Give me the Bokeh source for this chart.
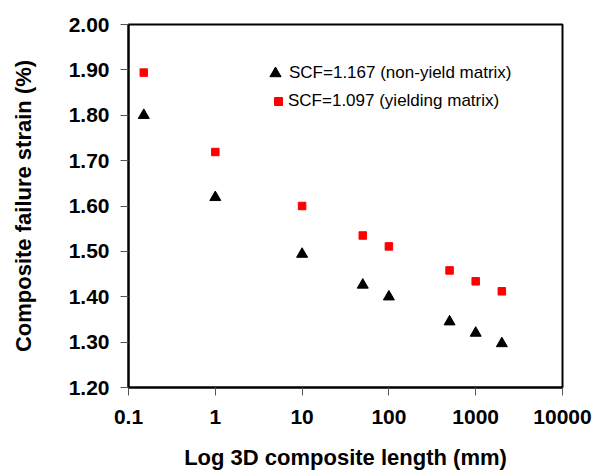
from bokeh.plotting import figure
from bokeh.models import FixedTicker, PrintfTickFormatter, CustomJSTickFormatter, Legend, LegendItem
from bokeh.embed import file_html
from bokeh.resources import INLINE

# Data
lengths = [0.15, 1, 10, 50, 100, 500, 1000, 2000]
strain_nonyield = [1.800, 1.619, 1.494, 1.426, 1.400, 1.345, 1.320, 1.297]
strain_yielding = [1.894, 1.719, 1.600, 1.535, 1.511, 1.458, 1.434, 1.412]
x_ticks = [0.1, 1, 10, 100, 1000, 10000]
y_ticks = [1.2, 1.3, 1.4, 1.5, 1.6, 1.7, 1.8, 1.9, 2.0]
label_nonyield = "SCF=1.167 (non-yield matrix)"
label_yielding = "SCF=1.097 (yielding matrix)"

FONT = "Liberation Sans"

p = figure(width=595, height=476, x_axis_type="log",
           x_range=(0.1, 10000), y_range=(1.2, 2.0),
           output_backend="svg", toolbar_location=None,
           min_border_left=128, min_border_right=33,
           min_border_top=24, min_border_bottom=89)

p.background_fill_color = "white"
p.border_fill_color = "white"
p.outline_line_color = "black"
p.outline_line_width = 2
p.xgrid.visible = False
p.ygrid.visible = False

r_tri = p.scatter(lengths, strain_nonyield, marker="triangle", size=11,
                  fill_color="black", line_color="black", line_width=1)
r_sq = p.scatter(lengths, strain_yielding, marker="square", size=7.5,
                 fill_color="#ff0000", line_color="#ff0000", line_width=1)

for ax in (p.xaxis[0], p.yaxis[0]):
    ax.axis_line_color = "black"
    ax.axis_line_width = 2
    ax.major_tick_line_color = "#555555"
    ax.major_tick_line_width = 1
    ax.major_tick_in = 0
    ax.major_tick_out = 8
    ax.minor_tick_line_color = None
    ax.major_label_text_font = FONT
    ax.major_label_text_font_style = "bold"
    ax.major_label_text_font_size = "21px"
    ax.major_label_text_color = "black"
    ax.axis_label_text_font = FONT
    ax.axis_label_text_font_style = "bold"
    ax.axis_label_text_font_size = "22px"
    ax.axis_label_text_color = "black"

p.xaxis.ticker = FixedTicker(ticks=x_ticks)
p.xaxis.formatter = CustomJSTickFormatter(code="return tick.toString();")
p.yaxis.ticker = FixedTicker(ticks=y_ticks)
p.yaxis.formatter = PrintfTickFormatter(format="%.2f")

p.xaxis.axis_label = "Log 3D composite length (mm)"
p.yaxis.axis_label = "Composite failure strain (%)"
p.xaxis.major_label_standoff = 14
p.yaxis.major_label_standoff = 11
p.xaxis.axis_label_standoff = 18
p.yaxis.axis_label_standoff = 30


def make_legend(item, loc, glyph, standoff):
    lg = Legend(items=[item], location=loc)
    lg.border_line_color = None
    lg.background_fill_alpha = 0
    lg.padding = 0
    lg.margin = 0
    lg.spacing = 0
    lg.glyph_width = glyph
    lg.glyph_height = glyph
    lg.label_standoff = standoff
    lg.label_height = 20
    lg.label_text_font = FONT
    lg.label_text_font_size = "17px"
    lg.label_text_color = "black"
    return lg


p.add_layout(make_legend(LegendItem(label=label_nonyield, renderers=[r_tri]),
                         (133, 300), 28, 0), "center")
p.add_layout(make_legend(LegendItem(label=label_yielding, renderers=[r_sq]),
                         (140, 276), 20, 0), "center")

open("out.html", "w").write(file_html(p, INLINE))
